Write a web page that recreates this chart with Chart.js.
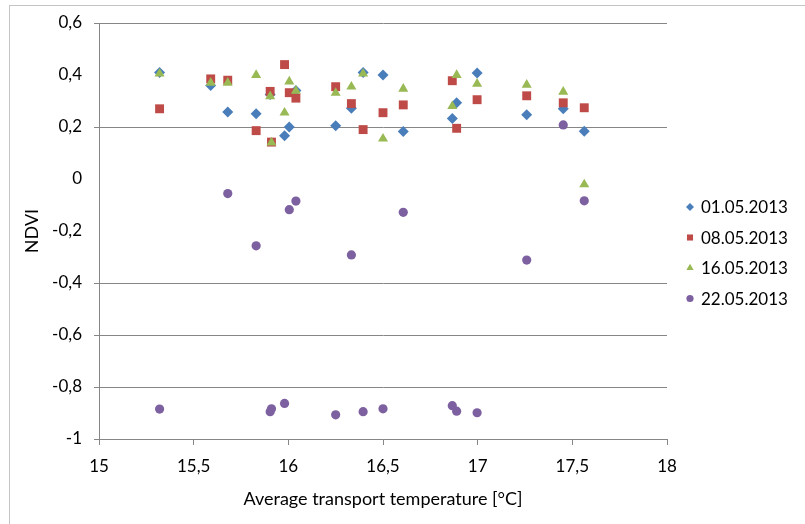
<!DOCTYPE html>
<html>
<head>
<meta charset="utf-8">
<script src="https://cdn.jsdelivr.net/npm/chart.js@4.4.1/dist/chart.umd.min.js"></script>
<style>
  html, body { margin: 0; padding: 0; background: #fff; }
  #wrap { width: 805px; height: 524px; }
</style>
</head>
<body>
<div id="wrap"><canvas id="c" width="805" height="524"></canvas></div>
<script>
// ---- data ----
const seriesNames = ['01.05.2013', '08.05.2013', '16.05.2013', '22.05.2013'];
const temperatures = [15.32, 15.59, 15.68, 15.83, 15.904, 15.911, 15.98, 16.005, 16.04, 16.25,
                      16.333, 16.395, 16.5, 16.607, 16.866, 16.889, 16.997, 17.259, 17.452, 17.563];
const ndvi0105 = [0.41, 0.36, 0.258, 0.251, 0.325, null, 0.166, 0.20, 0.34, 0.205,
                  0.272, 0.41, 0.40, 0.183, 0.233, 0.293, 0.408, 0.247, 0.27, 0.184];
const ndvi0805 = [0.27, 0.385, 0.38, 0.186, 0.337, 0.142, 0.44, 0.332, 0.311, 0.355,
                  0.29, 0.19, 0.255, 0.285, 0.378, 0.195, 0.305, 0.32, 0.293, 0.274];
const ndvi1605 = [0.405, 0.37, 0.37, 0.40, 0.318, 0.14, 0.255, 0.375, 0.339, 0.331,
                  0.355, 0.405, 0.155, 0.347, 0.28, 0.40, 0.366, 0.362, 0.335, -0.021];
const ndvi2205 = [-0.885, null, -0.056, -0.257, -0.895, -0.884, -0.863, -0.118, -0.085, -0.907,
                  -0.292, -0.895, -0.884, -0.128, -0.872, -0.893, -0.899, -0.312, 0.208, -0.084];
const xTickLabels = ['15', '15,5', '16', '16,5', '17', '17,5', '18'];
const yTickLabels = ['-1', '-0,8', '-0,6', '-0,4', '-0,2', '0', '0,2', '0,4', '0,6'];
const yGridHidden = [0.4, 0, -0.2]; // gridlines not visible in the reference

// ---- styling ----
const FONT = 'Lato, "Open Sans", sans-serif';
const colors = ['#4A7EBB', '#BE4B48', '#98B954', '#7D60A0'];
const pointStyles = ['rectRot', 'rect', 'triangle', 'circle'];
const pointRadii = [5.5, 6.3, 5.8, 4.6];
const legendRadii = [4, 4.3, 4.2, 3.6];
const axisGray = '#868686';

function toPoints(ys) {
  const out = [];
  ys.forEach((y, i) => { if (y !== null) out.push({ x: temperatures[i], y: y }); });
  return out;
}
const allSeries = [ndvi0105, ndvi0805, ndvi1605, ndvi2205];
const datasets = allSeries.map((ys, i) => ({
  label: seriesNames[i],
  data: toPoints(ys),
  pointStyle: pointStyles[i],
  pointRadius: pointRadii[i],
  pointHoverRadius: pointRadii[i],
  backgroundColor: colors[i],
  borderColor: colors[i],
  borderWidth: 0,
  showLine: false,
  order: 4 - i
}));

const frame = {
  id: 'frame',
  beforeDraw(chart) {
    const ctx = chart.ctx;
    ctx.save();
    ctx.fillStyle = '#fff';
    ctx.fillRect(0, 0, chart.width, chart.height);
    ctx.strokeStyle = '#c4c4c4';
    ctx.lineWidth = 1;
    ctx.strokeRect(9.5, 5.5, 1000, 1000);
    ctx.restore();
  }
};

const customLegend = {
  id: 'customLegend',
  afterDraw(chart) {
    const ctx = chart.ctx;
    ctx.save();
    ctx.font = '17px ' + FONT;
    ctx.textBaseline = 'middle';
    ctx.textAlign = 'left';
    seriesNames.forEach((name, i) => {
      const y = 207 + i * 30.5;
      ctx.fillStyle = colors[i];
      ctx.strokeStyle = colors[i];
      Chart.helpers.drawPoint(ctx, { pointStyle: pointStyles[i], radius: legendRadii[i], rotation: 0, borderWidth: 0 }, 690, y);
      ctx.fillStyle = '#000';
      ctx.fillText(name, 701, y + 1);
    });
    ctx.restore();
  }
};

new Chart(document.getElementById('c'), {
  type: 'scatter',
  data: { datasets: datasets },
  plugins: [frame, customLegend],
  options: {
    responsive: false,
    animation: false,
    events: [],
    layout: { padding: { top: 23, right: 138, left: 0, bottom: 0 } },
    plugins: { legend: { display: false }, tooltip: { enabled: false } },
    scales: {
      x: {
        type: 'linear',
        min: 15, max: 18,
        afterFit(scale) { scale.height = 85; },
        ticks: {
          stepSize: 0.5,
          color: '#000',
          font: { family: FONT, size: 17 },
          padding: 11,
          maxRotation: 0,
          callback: (v, i) => xTickLabels[i]
        },
        grid: { drawOnChartArea: false, drawTicks: true, tickLength: 6, color: axisGray },
        border: { display: true, color: axisGray },
        title: {
          display: true,
          text: 'Average transport temperature [°C]',
          color: '#000',
          font: { family: FONT, size: 18 },
          padding: { top: 0, bottom: 14 }
        }
      },
      y: {
        type: 'linear',
        min: -1, max: 0.6,
        afterFit(scale) { scale.width = 99; },
        ticks: {
          stepSize: 0.2,
          color: '#000',
          font: { family: FONT, size: 17 },
          padding: 12,
          callback: (v, i) => yTickLabels[i]
        },
        grid: {
          tickLength: 5,
          color: (c) => {
            const v = c.tick ? c.tick.value : null;
            if (v !== null && yGridHidden.some(h => Math.abs(h - v) < 1e-6)) return 'rgba(0,0,0,0)';
            return axisGray;
          }
        },
        border: { display: true, color: axisGray },
        title: {
          display: true,
          text: 'NDVI',
          color: '#000',
          font: { family: FONT, size: 18 },
          padding: { top: 21, bottom: 0 }
        }
      }
    }
  }
});
</script>
</body>
</html>
